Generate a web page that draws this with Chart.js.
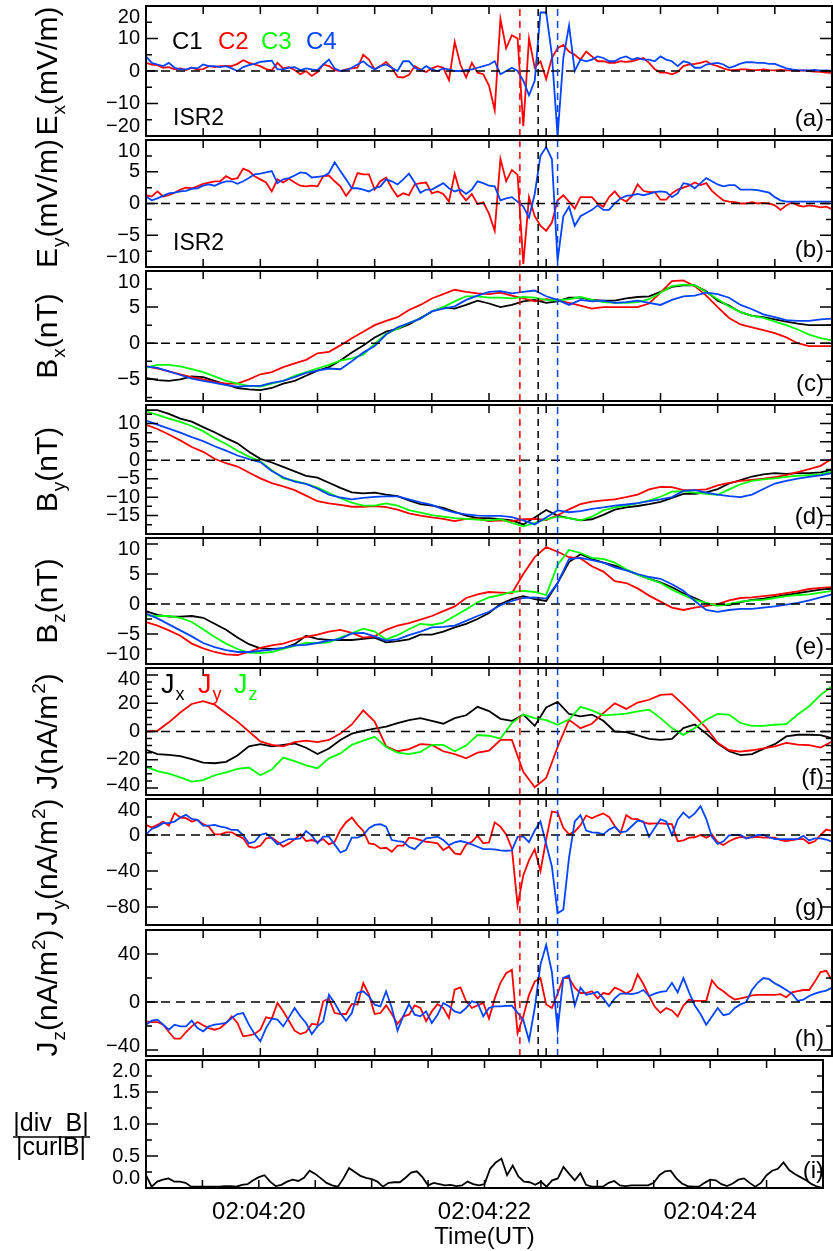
<!DOCTYPE html>
<html><head><meta charset="utf-8"><title>Cluster multi-panel</title>
<script src="https://cdn.jsdelivr.net/npm/chart.js@4.4.1/dist/chart.umd.min.js"></script>
<style>
html,body{margin:0;padding:0;background:#fff}
body{position:relative;width:833px;height:1251px;overflow:hidden}
canvas{position:absolute;left:0}
</style></head><body>
<script>
// ---------- time axis (seconds after 02:04:00 UT) ----------
const X_MIN = 19, X_MAX = 25;
const T_FAST = Array.from({length:121},(_,i)=>Math.round((19+i*0.05)*100)/100);
const T_SLOW = Array.from({length:61},(_,i)=>Math.round((19+i*0.1)*100)/100);
const X_TICK_LABELS = {20:'02:04:20', 22:'02:04:22', 24:'02:04:24'};
const EVENT_TIMES = [22.27, 22.43, 22.60];           // C2, C1, C4 crossings
const EVENT_SC = ['C2','C1','C4'];

// ---------- (a) Ex ISR2 ----------
const EX_C2 = [2.5,2.0,1.8,1.0,1.2,0.5,0.8,0.3,1.0,0.4,0.6,1.5,1.2,1.5,1.6,1.5,2.2,3.3,2.5,2.0,1.5,0.6,0.2,2.5,0.8,1.2,0.3,-1.0,0.0,-1.5,-0.3,2.0,1.5,0.3,0.0,0.5,0.8,1.0,5.0,3.5,0.5,1.5,2.8,1.0,-1.8,-2.0,-1.2,1.5,0.5,-0.3,0.8,1.5,1.0,-2.8,9.0,2.0,-2.0,2.5,-0.5,-1.0,-4.5,
 -12,16,7,11,10,-17,10,1,3,-2.5,4,7,8,6,5,3.5,6,4.5,3,3,2.5,2.5,3,2.8,3,3.5,4,2.5,0.5,-0.5,-0.5,-1,-0.3,1.5,2,2.2,2.5,3,2,1.5,0.8,0.3,0.3,0.5,0.5,0.3,0.3,0.5,0.3,0.2,0.3,0.2,0.2,0.1,0.2,0.0,-0.2,-0.3,-0.5,-0.6];
const EX_C4 = [4.5,2.5,2.0,1.5,2.5,1.0,0.5,0.5,1.0,0.8,2.0,1.5,1.5,1.2,1.5,0.8,0.0,1.2,1.8,2.2,2.8,3.0,3.2,0.5,0.5,1.0,1.2,0.3,0.8,0.5,0.3,2.0,3.5,0.8,0.0,0.3,1.0,2.0,3.0,1.5,0.5,1.5,2.0,1.0,0.0,3.0,3.0,1.0,0.2,1.5,0.5,0.0,0.8,0.5,0.0,0.0,0.3,0.5,1.0,1.5,2.0,
 3.0,-1.0,0.0,1.0,0.0,-3.0,-7.5,-3.0,18,18,5,-20,4,14,0,3.5,3,3.5,4.5,4,3,3,4,4.5,3.5,4,3.5,3.5,3,4.5,3.5,3,1.5,3,2.5,1,1,2,2.3,2.5,2,1,1.5,2.3,2.7,2.7,2.5,2.5,2.2,2.2,1.5,0.8,0.5,0.3,0.2,0.2,0.3,0.1,0.2,0.0];
// ---------- (b) Ey ISR2 ----------
const EY_C2 = [1.3,1.1,1.9,1.1,1.3,1.7,2.2,2.5,2.4,2.7,3.1,3.3,3.5,3.5,4.3,3.8,4.0,5.5,5.1,4.3,3.8,3.3,1.9,3.8,3.3,3.9,3.3,2.8,2.7,2.8,2.7,4.3,4.4,3.5,2.7,1.2,2.4,4.8,4.6,4.6,2.2,3.5,4.1,2.4,1.1,1.6,1.3,3.0,3.2,3.3,1.6,1.9,1.5,0.3,4.7,1.6,0.5,1.5,-0.1,0.2,-1.6,
 -4.3,7.0,3.5,5.3,4.5,-9.5,1.0,-2.0,-3.5,-4.3,-3.0,0.5,1.3,0.3,-0.8,1.0,1.0,1.0,0.0,-0.5,1.0,1.9,0.8,0.3,1.2,3.0,2.0,1.8,1.8,0.6,0.6,1.6,2.2,2.5,2.8,3.3,2.9,3.2,2.0,1.2,0.5,0.3,0.2,0.0,0.0,0.2,0.0,0.1,0.0,-0.3,-1.0,-0.3,0.2,-0.3,-0.5,-0.3,-0.4,-0.6,-0.5,-0.9];
const EY_C4 = [1.1,0.5,0.8,1.2,1.6,1.7,1.9,2.0,2.3,2.4,2.8,3.0,2.8,3.2,3.5,3.5,3.1,3.5,4.0,4.6,4.7,4.9,5.1,3.2,3.8,4.0,4.4,4.9,4.8,4.1,4.2,4.3,4.8,6.5,5.1,3.8,2.4,2.4,2.2,1.9,2.4,2.7,3.8,3.5,3.0,3.8,4.7,3.3,1.7,2.2,2.2,2.7,3.2,2.4,1.9,2.2,1.5,2.2,3.5,3.2,2.8,
 2.7,0.5,0.8,1.0,0.3,-0.5,-2.2,1.5,7.5,8.9,7.0,-9.0,-2.0,-0.5,-3.5,-2.0,-1.5,-1.0,-0.3,-1.0,-1.0,0.0,0.8,1.2,1.3,1.5,1.3,1.5,1.8,1.9,1.8,1.0,1.6,3.2,3.0,2.4,3.2,4.0,3.5,3.0,2.7,2.9,2.9,2.2,2.2,2.2,2.1,1.9,1.7,1.0,0.5,0.3,0.3,0.3,0.3,0.3,0.3,0.3,0.3,0.3];
// ---------- (c) Bx ----------
const BX_C1 = [-4.8,-5.1,-5.2,-5.0,-4.6,-4.7,-5.2,-5.7,-6.2,-6.4,-6.5,-6.2,-5.6,-5.2,-4.5,-3.8,-3.3,-2.4,-1.3,-0.3,0.8,1.6,2.0,2.6,3.5,4.4,5.0,4.8,5.3,5.9,5.5,
 5.0,5.3,5.8,6.0,5.6,5.8,6.3,6.3,6.0,5.9,5.9,6.2,6.4,6.5,7.1,7.8,8.0,8.0,7.2,5.9,5.2,4.3,3.8,3.6,3.3,3.0,2.7,2.5,2.5,2.5];
const BX_C2 = [-3.2,-3.5,-3.9,-4.3,-4.7,-5.0,-5.4,-5.6,-5.6,-5.0,-4.3,-4.0,-3.3,-2.8,-2.3,-1.4,-1.2,-0.3,0.7,1.6,2.5,3.1,3.6,4.6,5.3,6.2,6.8,7.4,7.1,6.9,6.8,
 7.0,6.6,6.2,5.8,6.1,5.9,5.6,5.2,4.8,5.0,5.0,5.0,5.0,5.5,7.0,8.6,8.7,7.9,6.6,5.0,3.5,2.6,2.2,1.8,1.4,0.8,0.0,-0.4,-0.4,-0.4];
const BX_C3 = [-3.4,-3.0,-3.0,-3.2,-3.6,-4.0,-4.6,-5.2,-5.6,-5.9,-6.0,-5.6,-5.2,-4.5,-4.0,-3.5,-3.0,-2.4,-2.1,-1.6,-0.1,1.3,2.0,2.8,3.4,4.4,5.0,5.8,6.5,6.5,6.3,
 6.3,6.2,6.4,6.3,6.0,5.9,6.1,6.4,6.0,5.7,5.6,5.6,5.7,6.1,7.0,7.9,8.1,8.0,7.1,6.1,5.1,4.3,3.8,3.5,3.0,2.5,1.9,1.2,0.7,0.4];
const BX_C4 = [-3.2,-3.4,-3.9,-4.4,-4.9,-5.2,-5.5,-5.8,-6.0,-5.9,-5.9,-5.5,-5.2,-4.7,-4.1,-3.8,-3.5,-3.6,-2.5,-1.3,-0.4,1.2,2.2,2.8,3.4,4.4,4.8,5.1,6.0,6.6,7.1,
 7.2,6.9,7.1,7.3,6.5,6.0,5.3,6.0,5.8,5.9,5.6,5.7,5.9,5.6,5.3,6.0,6.5,6.6,7.0,6.8,6.3,5.3,4.7,4.0,3.6,3.2,3.1,3.1,3.3,3.4];
// ---------- (d) By ----------
const BY_C1 = [13.6,13.6,12.6,11.3,10.5,9.0,7.6,6.0,4.6,2.3,0.4,-0.6,-1.8,-3.0,-4.2,-4.7,-6.1,-7.5,-8.7,-9.0,-8.8,-9.3,-9.7,-10.9,-11.9,-12.3,-12.9,-14.0,-15.0,-15.7,-15.7,
 -16.0,-16.3,-17.4,-15.5,-13.5,-15.0,-15.7,-16.3,-16.0,-14.8,-13.4,-12.8,-12.4,-11.9,-11.3,-10.2,-9.1,-9.1,-8.7,-7.8,-6.3,-5.4,-4.4,-3.8,-3.5,-3.7,-3.5,-3.5,-3.3,-2.6];
const BY_C2 = [9.6,8.5,7.0,5.4,3.6,2.3,0.4,-0.8,-1.7,-3.3,-4.9,-6.2,-7.1,-8.1,-9.6,-11.1,-11.7,-12.1,-12.6,-12.6,-12.4,-12.7,-13.4,-14.4,-15.0,-15.5,-15.9,-16.5,-15.9,-15.9,-16.5,
 -16.3,-16.5,-16.0,-15.9,-16.2,-14.9,-13.3,-11.9,-11.2,-10.9,-10.6,-10.0,-9.3,-7.9,-7.2,-7.3,-8.1,-8.1,-7.9,-6.8,-6.1,-5.6,-5.3,-5.0,-4.6,-4.0,-3.2,-2.4,-1.5,0.4];
const BY_C3 = [13.3,12.3,11.3,10.4,9.3,7.9,6.0,4.4,2.6,1.0,-0.3,-2.7,-4.9,-5.6,-6.4,-7.4,-8.8,-10.3,-11.5,-12.3,-12.3,-11.7,-12.3,-13.5,-14.2,-14.9,-15.3,-15.7,-15.9,-16.1,-16.3,
 -16.0,-17.0,-17.9,-17.0,-16.0,-15.3,-15.7,-16.3,-15.3,-13.6,-12.8,-12.3,-11.7,-10.9,-9.9,-8.5,-8.4,-8.8,-9.1,-9.4,-7.9,-6.5,-5.6,-5.2,-4.9,-4.5,-4.2,-4.0,-3.8,-3.1];
const BY_C4 = [10.8,9.7,8.6,7.5,6.3,5.2,3.8,2.6,1.3,0.3,-0.5,-2.9,-4.6,-5.8,-6.4,-7.7,-9.3,-10.1,-10.6,-10.2,-9.9,-9.8,-9.8,-10.6,-11.4,-12.1,-13.3,-14.2,-14.7,-15.0,-15.1,
 -15.1,-15.4,-16.3,-17.4,-15.5,-13.6,-14.1,-13.8,-13.2,-12.8,-12.3,-12.0,-11.6,-11.1,-10.6,-10.0,-8.3,-8.1,-8.8,-9.3,-9.7,-10.0,-9.3,-7.8,-6.3,-5.6,-5.0,-4.5,-4.1,-3.5];
// ---------- (e) Bz ----------
const BZ_C1 = [-1.2,-1.8,-2.1,-2.1,-2.0,-2.3,-3.3,-4.3,-5.6,-6.7,-7.4,-7.5,-7.4,-6.7,-5.3,-5.8,-6.0,-6.0,-6.0,-5.8,-5.6,-6.4,-6.2,-5.9,-5.1,-5.1,-4.6,-3.9,-3.3,-2.5,-1.5,
 0.0,0.8,1.3,0.8,0.5,3.5,7.0,8.3,7.5,6.9,6.4,5.7,4.9,4.2,3.6,2.8,1.8,1.0,0.1,-0.2,-0.2,0.3,0.7,0.9,1.2,1.5,1.8,2.1,2.4,2.6];
const BZ_C2 = [-3.0,-3.6,-4.4,-5.3,-6.6,-7.4,-8.0,-8.4,-8.5,-8.0,-7.3,-6.9,-6.6,-6.0,-5.5,-5.1,-4.6,-4.3,-4.8,-5.6,-5.4,-4.3,-3.6,-3.2,-2.6,-2.0,-1.2,-0.4,1.0,1.6,2.0,
 1.9,1.8,5.0,7.8,9.5,8.7,7.8,7.6,6.3,5.4,3.8,3.5,2.6,1.4,0.4,-0.6,-1.0,-0.6,-0.3,0.0,0.6,1.0,1.1,1.3,1.5,1.8,2.1,2.5,2.7,2.8];
const BZ_C3 = [-1.9,-2.0,-2.0,-2.3,-3.0,-4.2,-5.5,-6.6,-7.5,-8.1,-8.2,-8.0,-7.5,-7.0,-6.5,-6.5,-6.4,-5.6,-4.9,-4.1,-4.6,-5.9,-5.2,-4.2,-3.3,-3.5,-3.1,-2.0,-0.9,0.3,1.1,
 1.5,2.0,2.2,2.0,1.5,6.5,9.0,8.5,7.7,7.5,6.9,5.8,4.9,4.2,3.5,2.4,1.5,0.7,0.2,-0.3,0.0,0.4,0.6,0.7,1.0,1.3,1.5,1.6,1.9,2.2];
const BZ_C4 = [-1.6,-2.4,-3.4,-4.4,-5.4,-6.5,-7.2,-7.7,-8.0,-8.0,-7.8,-7.6,-7.3,-6.9,-6.8,-6.5,-6.1,-5.8,-4.9,-4.8,-5.4,-6.1,-5.9,-5.2,-4.6,-3.9,-3.8,-3.6,-2.8,-2.0,-1.3,
 -0.2,0.5,1.0,1.1,0.9,3.5,7.5,7.7,7.3,6.9,6.1,5.6,5.0,4.5,4.2,3.3,2.2,0.5,-1.0,-1.3,-1.0,-0.8,-0.8,-0.6,-0.4,-0.1,0.2,0.6,1.1,1.6];
// ---------- (f) curlometer J components ----------
const JX = [-13.0,-16.0,-16.5,-17.5,-19.5,-22.0,-22.5,-21.5,-17.0,-10.5,-9.0,-10.5,-9.5,-8.5,-11.5,-16.0,-12.0,-6.0,-1.5,0.5,2.0,3.5,6.0,8.0,9.5,7.5,5.5,9.5,11.5,17.5,14.5,
 9.0,7.5,12.0,4.0,17.0,21.0,12.4,10.7,12.0,7.6,0.0,-0.5,-2.8,-5.2,-6.0,-5.2,2.4,5.0,-1.5,-8.5,-14.0,-16.7,-16.0,-12.3,-9.0,-3.5,-2.3,-2.3,-2.5,-4.8];
const JY = [0.0,0.5,6.5,13.5,19.5,21.5,19.0,13.0,7.0,0.0,-7.0,-9.5,-10.5,-7.5,-6.5,-7.5,-6.0,-1.5,5.0,15.0,7.0,-10.5,-14.0,-12.5,-9.0,-9.5,-14.0,-16.0,-19.0,-15.0,-13.5,
 -6.0,-6.0,-28.6,-39.5,-33.0,-11.0,8.3,2.4,5.5,13.0,20.0,16.0,20.5,22.5,26.0,26.5,19.0,11.0,2.5,-8.0,-13.3,-14.3,-13.3,-12.0,-10.5,-8.1,-9.3,-9.6,-11.4,-7.1];
const JZ = [-25.0,-28.0,-29.8,-32.5,-35.5,-34.5,-31.0,-29.0,-26.5,-25.5,-31.0,-27.0,-18.5,-21.0,-24.0,-26.0,-19.0,-15.5,-9.5,-6.5,-3.8,-11.0,-15.0,-16.0,-14.5,-9.5,-9.5,-14.0,-10.0,-2.5,-3.0,
 -5.0,6.0,12.0,9.5,8.0,4.8,8.5,17.5,15.0,11.4,12.0,12.6,14.3,15.5,9.5,2.4,-2.4,2.4,8.3,12.4,11.9,6.0,4.0,4.0,4.8,5.2,12.0,17.9,26.0,32.0];
// ---------- (g) Jy from single spacecraft ----------
const JY_C2 = [11.2,8.2,11.2,14.9,10.4,24.3,19.4,18.7,14.9,16.8,12.0,9.3,0.7,0.7,3.0,3.0,-0.7,-3.7,-13.0,-14.2,-11.9,-3.7,-3.0,-7.5,-13.0,-9.3,-4.9,0.7,-6.7,-5.6,-7.5,-4.5,-10.4,-7.5,5.6,14.2,19.4,11.2,4.5,-9.3,-10.4,-14.9,-14.2,-18.7,-11.9,-11.9,-3.0,-3.7,-5.6,-7.5,-8.2,-9.3,-16.8,-13.0,-20.5,-21.6,-10.4,-7.5,-0.7,-9.3,-8.2,
 14.0,9.3,0.7,-15.0,-78.0,-45.0,-28.0,-16.0,-40.0,-5.0,26.0,25.0,8.0,0.7,3.7,11.0,21.6,18.5,21.6,24.0,20.0,10.0,2.0,22.0,18.0,17.5,14.0,12.5,13.0,13.0,12.5,12.0,-7.0,-6.0,-3.0,-2.5,0.0,-3.0,0.7,-8.0,-11.2,-7.0,-4.0,-2.0,-3.0,-2.5,-2.0,-3.0,-3.0,-3.0,-5.6,-6.7,-5.6,-4.5,-4.5,-9.3,-7.0,0.0,6.0,4.5];
const JY_C4 = [0.7,6.7,9.3,13.1,13.1,14.9,19.4,22.4,17.9,16.8,10.4,10.4,11.2,9.3,8.2,5.6,5.6,0.0,-9.3,-7.5,0.0,1.9,-3.7,-10.4,-7.5,-4.5,-4.5,-3.7,4.5,-0.7,-9.3,-1.9,-1.9,-10.4,-19.4,-16.8,-3.0,-3.0,0.0,7.5,11.2,11.9,9.3,-5.6,-6.7,-7.5,-13.1,-15.7,-9.3,-3.7,-3.0,-1.9,-5.6,-11.2,-8.2,-6.7,-8.2,-10.4,-13.1,-15.7,-15.7,
 -16.0,-17.0,-17.5,-17.0,-2.0,-1.5,-8.0,5.0,15.0,-10.0,-35.0,-87.0,-83.0,-25.0,15.0,22.0,5.0,3.0,2.5,0.7,6.0,9.0,3.0,4.0,10.0,16.0,15.0,-2.0,8.0,17.5,15.0,0.0,17.0,25.0,19.0,24.0,32.0,18.0,-2.0,-10.0,-7.0,-0.5,0.0,0.0,-4.0,-2.0,0.0,0.0,-2.5,-4.5,-4.5,-4.5,-4.5,-4.5,-1.0,-6.0,-3.7,-3.7,-5.0,-7.5];
// ---------- (h) Jz from single spacecraft ----------
const JZ_C2 = [-16.1,-16.7,-16.7,-18.9,-25.0,-30.6,-30.6,-25.0,-20.3,-16.7,-19.4,-21.7,-23.1,-21.7,-17.5,-11.9,-17.5,-28.6,-27.8,-26.7,-23.1,-12.8,-13.9,-0.8,-7.8,-15.6,-23.9,-26.7,-25.0,-18.3,-18.9,0.6,2.8,-9.2,-10.0,-10.0,-1.7,-2.2,15.8,6.1,-10.0,-9.2,-2.8,-10.0,-18.3,-11.9,-10.6,-2.8,-5.0,-16.1,-7.8,-1.7,-5.0,-13.3,10.3,12.2,0.6,-5.0,-2.8,-0.8,-13.9,
 3.0,16.0,24.0,26.9,-26.0,-12.0,6.0,17.0,20.0,-2.0,-5.0,7.0,20.0,20.0,12.0,7.5,7.5,9.0,3.0,7.5,6.5,12.0,10.0,7.0,10.0,23.0,15.0,5.0,-4.0,-9.0,-5.0,-7.0,-12.0,-3.0,2.0,1.0,1.0,1.0,18.0,12.0,9.0,5.0,2.0,3.0,4.0,5.5,6.0,6.0,6.0,6.0,6.5,4.0,8.0,9.0,10.0,10.0,17.0,25.0,26.0,18.0];
const JZ_C4 = [-18.9,-15.6,-14.7,-18.9,-23.1,-18.9,-20.3,-20.3,-15.6,-21.7,-24.4,-20.3,-18.9,-18.3,-17.5,-13.3,-10.0,-9.2,-18.9,-26.7,-32.8,-21.7,-13.9,-14.7,-20.3,-12.8,-5.0,-11.9,-17.5,-26.7,-20.3,-16.1,6.1,-0.8,-9.2,-15.6,-9.2,7.5,8.9,4.7,-2.2,-3.6,8.9,-5.0,-23.9,-11.9,-1.7,-10.6,-11.9,-7.8,-17.5,-10.6,-0.8,-3.6,-7.8,-9.2,-5.0,0.6,-0.8,-11.9,-5.0,
 -3.6,-3.6,-3.3,-3.0,-9.0,-15.0,-32.0,-5.0,31.0,47.5,25.0,-23.0,20.0,22.0,-3.0,12.0,6.0,7.0,8.5,3.0,-3.5,3.0,7.0,7.0,6.5,7.5,10.0,5.0,7.0,8.5,9.0,16.0,8.0,20.0,8.0,-3.0,-10.0,-18.9,-12.0,-5.0,-11.0,-10.0,-5.0,-2.0,0.0,10.0,16.0,20.0,19.0,15.5,13.0,10.0,7.0,1.0,2.0,5.0,7.0,8.5,9.5,12.0];
// ---------- (i) |div B| / |curl B| ----------
const DIVB_RATIO = [0.20,0.02,0.10,0.13,0.15,0.10,0.10,0.08,0.02,0.02,0.02,0.02,0.02,0.02,0.03,0.03,0.02,0.05,0.06,0.12,0.17,0.20,0.10,0.03,0.05,0.10,0.13,0.11,0.16,0.27,0.22,0.15,0.08,0.04,0.02,0.15,0.31,0.25,0.19,0.16,0.14,0.10,0.02,0.08,0.09,0.09,0.16,0.24,0.26,0.17,0.04,0.08,0.06,0.04,0.05,0.03,0.04,0.10,0.06,0.04,0.06,0.30,0.40,0.46,0.20,0.35,0.18,0.10,0.09,0.05,0.10,0.02,0.12,0.15,0.33,0.22,0.12,0.23,0.05,0.02,0.02,0.02,0.08,0.11,0.04,0.03,0.04,0.04,0.04,0.04,0.08,0.20,0.26,0.27,0.15,0.07,0.03,0.02,0.02,0.08,0.13,0.12,0.06,0.03,0.07,0.13,0.15,0.08,0.02,0.08,0.20,0.27,0.30,0.40,0.28,0.22,0.17,0.12,0.06,0.02,0.00];

// ---------- styling / layout ----------
const FONT = '"Liberation Sans", Arial, Helvetica, sans-serif';
const COL = {C1:'#000000', C2:'#ff0000', C3:'#00ff00', C4:'#0044ff'};
const PAD = 3;
Chart.defaults.font.family = FONT;
Chart.defaults.color = '#000';

const PANELS = [
 {key:'a', top:6, bottom:136, min:-20, max:20, majors:[-20,-10,0,10,20], minor:5, time:T_FAST,
  title:[['E','n'],['x','sub'],['(mV/m)','n']], series:[['C4',EX_C4],['C2',EX_C2]], zero:true, events:true,
  texts:[{p:[['C1','n']],x:172,y:49,c:COL.C1,s:24},{p:[['C2','n']],x:218,y:49,c:COL.C2,s:24},
         {p:[['C3','n']],x:261,y:49,c:COL.C3,s:24},{p:[['C4','n']],x:306,y:49,c:COL.C4,s:24},
         {p:[['ISR2','n']],x:173,y:125,c:'#000',s:23}]},
 {key:'b', top:140, bottom:267, min:-10, max:10, majors:[-10,-5,0,5,10], minor:2.5, time:T_FAST,
  title:[['E','n'],['y','sub'],['(mV/m)','n']], series:[['C4',EY_C4],['C2',EY_C2]], zero:true, events:true,
  texts:[{p:[['ISR2','n']],x:173,y:250,c:'#000',s:23}]},
 {key:'c', top:271, bottom:401, min:-8, max:10, majors:[-5,0,5,10], minor:2.5, time:T_SLOW,
  title:[['B','n'],['x','sub'],['(nT)','n']], series:[['C4',BX_C4],['C3',BX_C3],['C2',BX_C2],['C1',BX_C1]], zero:true, events:true},
 {key:'d', top:405, bottom:534, min:-20, max:15, majors:[-15,-10,-5,0,5,10], minor:2.5, time:T_SLOW,
  title:[['B','n'],['y','sub'],['(nT)','n']], series:[['C4',BY_C4],['C3',BY_C3],['C2',BY_C2],['C1',BY_C1]], zero:true, events:true},
 {key:'e', top:538, bottom:664, min:-10, max:11, majors:[-10,-5,0,5,10], minor:2.5, time:T_SLOW,
  title:[['B','n'],['z','sub'],['(nT)','n']], series:[['C4',BZ_C4],['C3',BZ_C3],['C2',BZ_C2],['C1',BZ_C1]], zero:true, events:true},
 {key:'f', top:668, bottom:795, min:-45, max:45, majors:[-40,-20,0,20,40], minor:5, time:T_SLOW,
  title:[['J(nA/m','n'],['2','sup'],[')','n']], series:[['C3',JZ],['C2',JY],['C1',JX]], zero:true, events:true,
  texts:[{p:[['J','n'],['x','sub']],x:161,y:693,c:COL.C1,s:27},{p:[['J','n'],['y','sub']],x:198,y:693,c:COL.C2,s:27},
         {p:[['J','n'],['z','sub']],x:234,y:693,c:COL.C3,s:27}]},
 {key:'g', top:799, bottom:925, min:-100, max:40, majors:[-80,-40,0,40], minor:20, time:T_FAST,
  title:[['J','n'],['y','sub'],['(nA/m','n'],['2','sup'],[')','n']], series:[['C4',JY_C4],['C2',JY_C2]], zero:true, events:true},
 {key:'h', top:930, bottom:1056, min:-45, max:60, majors:[-40,0,40], minor:20, time:T_FAST,
  title:[['J','n'],['z','sub'],['(nA/m','n'],['2','sup'],[')','n']], series:[['C4',JZ_C4],['C2',JZ_C2]], zero:true, events:true},
 {key:'i', top:1060, bottom:1188, min:0, max:2, majors:[0,0.5,1,1.5,2], minor:0.25, time:T_FAST, last:true, dec:1,
  series:[['C1',DIVB_RATIO]], zero:false, events:false}
];

function fmt(v, p){ const s = p.dec ? Math.abs(v).toFixed(p.dec) : String(Math.abs(v)); return (v < 0 ? '\u2212' : '') + s; }

function drawRich(ctx, parts, x, y, o){
  const size = o.size, small = o.small || Math.round(size*0.64);
  const widths = parts.map(([t,k]) => { ctx.font = `${k==='n'?size:small}px ${FONT}`; return ctx.measureText(t).width; });
  const total = widths.reduce((a,b)=>a+b,0) + parts.filter(q=>q[1]!=='n').length;
  ctx.save();
  ctx.translate(x, y);
  if (o.rotate) ctx.rotate(-Math.PI/2);
  ctx.fillStyle = o.color || '#000';
  ctx.textAlign = 'left'; ctx.textBaseline = 'alphabetic';
  let cx = o.align === 'center' ? -total/2 : (o.align === 'right' ? -total : 0);
  const base = o.middle ? size*0.36 : 0;
  parts.forEach(([t,k], i) => {
    ctx.font = `${k==='n'?size:small}px ${FONT}`;
    const dy = k==='sub' ? size*0.27 : (k==='sup' ? -size*0.40 : 0);
    ctx.fillText(t, cx + (k!=='n'?1:0), base + dy);
    cx += widths[i] + (k!=='n'?1:0);
  });
  ctx.restore();
}

function makeDeco(p, canvasTop){
  return {
    id: 'deco_' + p.key,
    afterDraw(chart){
      const {ctx, chartArea: ca} = chart;
      const xs = chart.scales.x, ys = chart.scales.y;
      ctx.save();
      // inward ticks
      ctx.strokeStyle = '#000'; ctx.lineWidth = 1.5; ctx.beginPath();
      for (let v = X_MIN + 0.5; v < X_MAX - 1e-6; v += 0.5){
        const px = xs.getPixelForValue(v);
        ctx.moveTo(px, ca.top); ctx.lineTo(px, ca.top + 8);
        ctx.moveTo(px, ca.bottom); ctx.lineTo(px, ca.bottom - 8);
      }
      for (let v = Math.ceil(p.min/p.minor - 1e-9)*p.minor; v <= p.max + 1e-9; v += p.minor){
        const major = p.majors.some(m => Math.abs(m - v) < 1e-6);
        const L = major ? 12 : 6, py = ys.getPixelForValue(v);
        ctx.moveTo(ca.left, py); ctx.lineTo(ca.left + L, py);
        ctx.moveTo(ca.right, py); ctx.lineTo(ca.right - L, py);
      }
      ctx.stroke();
      // frame
      ctx.lineWidth = 2;
      ctx.strokeRect(ca.left, ca.top, ca.right - ca.left, ca.bottom - ca.top);
      // y tick labels (edge labels kept inside the frame height, as in the original)
      ctx.fillStyle = '#000'; ctx.font = `20px ${FONT}`; ctx.textAlign = 'right'; ctx.textBaseline = 'middle';
      for (const m of p.majors){
        let py = ys.getPixelForValue(m);
        py = Math.min(Math.max(py, ca.top + 11), ca.bottom - 10);
        ctx.fillText(fmt(m, p), ca.left - 6, py);
      }
      // y title
      if (p.title){
        drawRich(ctx, p.title, 46, (ca.top + ca.bottom)/2, {size:30, small:19, align:'center', rotate:true, middle:true});
      } else {
        const cy = (ca.top + ca.bottom)/2;
        drawRich(ctx, [['|div  B|','n']], 51, cy + 7, {size:25, align:'center'});
        ctx.lineWidth = 1.5; ctx.beginPath(); ctx.moveTo(13, cy + 13); ctx.lineTo(90, cy + 13); ctx.stroke();
        drawRich(ctx, [['|curlB|','n']], 51, cy + 31, {size:25, align:'center'});
      }
      // annotations
      (p.texts || []).forEach(t => drawRich(ctx, t.p, t.x, t.y - canvasTop, {size:t.s, small:Math.round(t.s*0.66), color:t.c}));
      // panel letter
      drawRich(ctx, [['(' + p.key + ')','n']], 824, ca.bottom - 10, {size:24, align:'right'});
      ctx.restore();
    }
  };
}

PANELS.forEach(p => {
  const canvasTop = p.top - PAD;
  const h = (p.last ? 1251 : p.bottom + PAD) - canvasTop;
  const cv = document.createElement('canvas');
  cv.width = 833; cv.height = h;
  cv.style.top = canvasTop + 'px'; cv.style.width = '833px'; cv.style.height = h + 'px';
  document.body.appendChild(cv);

  const datasets = [];
  if (p.events){
    EVENT_TIMES.forEach((t, i) => datasets.push({
      data:[{x:t, y:p.min},{x:t, y:p.max}], borderColor:COL[EVENT_SC[i]], borderWidth:1.5, borderDash:[7,5], order:0}));
  }
  if (p.zero){
    datasets.push({data:[{x:X_MIN, y:0},{x:X_MAX, y:0}], borderColor:'#000', borderWidth:1.5, borderDash:[9,6], order:1});
  }
  p.series.forEach(([sc, vals], i) => datasets.push({
    data: p.time.map((t, j) => ({x:t, y:vals[j]})), borderColor:COL[sc], borderWidth:1.8, order:2 + i}));

  const xScale = {type:'linear', min:X_MIN, max:X_MAX, display:!!p.last,
    grid:{display:false, drawTicks:false}, border:{display:false},
    ticks:{stepSize:0.5, autoSkip:false, maxRotation:0, padding:10, font:{size:24},
      callback:(v) => { for (const k in X_TICK_LABELS){ if (Math.abs(v - Number(k)) < 1e-6) return X_TICK_LABELS[k]; } return ''; }},
    title:{display:!!p.last, text:'Time(UT)', font:{size:24, lineHeight:1}, padding:{top:0, bottom:2}},
    afterFit:(s) => { if (p.last) s.height = 1251 - p.bottom; }};

  new Chart(cv, {
    type:'line',
    data:{datasets},
    options:{
      responsive:false, animation:false, devicePixelRatio:1, events:[],
      layout:{padding:{left:146, right:1, top:PAD, bottom:p.last ? 0 : PAD}},
      elements:{line:{tension:0, fill:false}, point:{radius:0}},
      plugins:{legend:{display:false}, tooltip:{enabled:false}},
      scales:{x:xScale, y:{type:'linear', min:p.min, max:p.max, display:false}}
    },
    plugins:[makeDeco(p, canvasTop)]
  });
});
</script>
</body></html>
